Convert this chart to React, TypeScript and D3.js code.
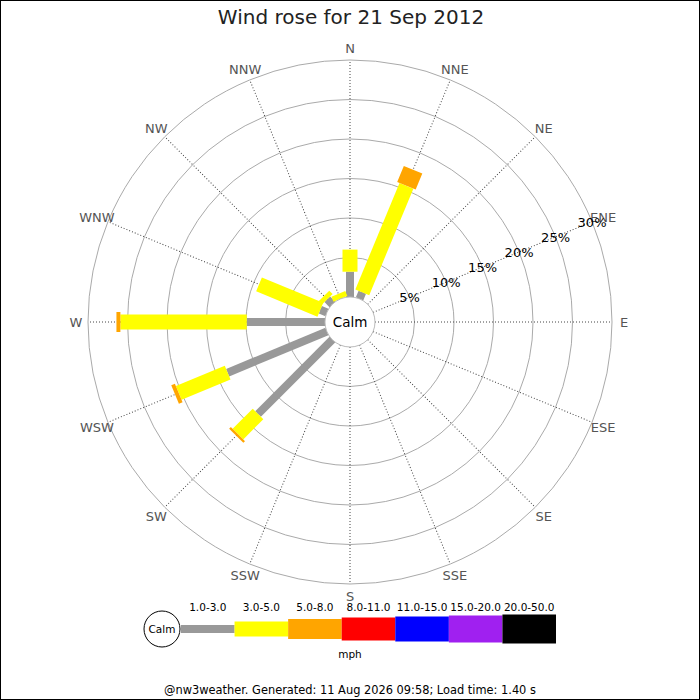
import { useEffect, useRef } from "react"
import * as d3 from "d3"

const directions = ["N", "NNE", "NE", "ENE", "E", "ESE", "SE", "SSE", "S", "SSW", "SW", "WSW", "W", "WNW", "NW", "NNW"]
const speedBins = ["1.0-3.0", "3.0-5.0", "5.0-8.0", "8.0-11.0", "11.0-15.0", "15.0-20.0", "20.0-50.0"]
const binColors = ["#999999", "#ffff00", "#ffa500", "#ff0000", "#0000ff", "#a020f0", "#000000"]

// % of time per direction, one array per speed bin (N clockwise to NNW)
const bin1to3 = [3.2, 0.9, 0, 0, 0, 0, 0, 0, 0, 0, 13.3, 13.6, 9.9, 0.9, 0.9, 0]
const bin3to5 = [2.8, 14.6, 0, 0, 0, 0, 0, 0, 0, 0, 3.6, 6.7, 16.0, 8.4, 0.6, 0.7]
const bin5to8 = [0, 2.2, 0, 0, 0, 0, 0, 0, 0, 0, 0.3, 0.5, 0.5, 0, 0, 0]
const bin8to11 = new Array(16).fill(0)
const bin11to15 = new Array(16).fill(0)
const bin15to20 = new Array(16).fill(0)
const bin20to50 = new Array(16).fill(0)
const binValues = [bin1to3, bin3to5, bin5to8, bin8to11, bin11to15, bin15to20, bin20to50]

const pctTicks = [5, 10, 15, 20, 25, 30]

const FONT = "DejaVu Sans, sans-serif"

export default function App() {
  const svgRef = useRef<SVGSVGElement>(null)

  useEffect(() => {
    if (!svgRef.current) return
    const svg = d3.select(svgRef.current)
    svg.selectAll("*").remove()

    const width = 700
    const height = 700
    const cx = 350
    const cy = 322
    const calmR = 25
    const barWidths = [8, 15, 20, 23, 25, 27, 29]

    const r = d3.scaleLinear().domain([0, 30]).range([calmR, 262])
    const angle = d3.scaleBand().domain(directions).range([0, 360]).align(0).paddingInner(0).paddingOuter(0)
    const ang = (d: string) => angle(d) || 0

    svg.attr("width", width).attr("height", height)

    svg.append("rect").attr("x", 0.5).attr("y", 0.5).attr("width", width - 1).attr("height", height - 1)
      .attr("fill", "#fff").attr("stroke", "#000")

    // title
    svg.append("text").attr("x", 351).attr("y", 24).attr("text-anchor", "middle")
      .style("font-family", FONT).style("font-size", "20px").attr("fill", "#222")
      .text("Wind rose for 21 Sep 2012")

    const g = svg.append("g").attr("transform", `translate(${cx},${cy})`)

    // rings
    g.selectAll("circle.ring").data(pctTicks).enter().append("circle")
      .attr("class", "ring").attr("r", (d) => r(d))
      .attr("fill", "none").attr("stroke", "#aaa").attr("stroke-width", 1)

    // spokes
    g.selectAll("line.spoke").data(directions).enter().append("line")
      .attr("class", "spoke")
      .attr("transform", (d) => `rotate(${ang(d)})`)
      .attr("x1", 0).attr("y1", -calmR).attr("x2", 0).attr("y2", -r(30))
      .attr("stroke", "#444").attr("stroke-width", 1).attr("stroke-dasharray", "1,2")

    // stacked bars
    const bars: { dir: string; bin: number; r0: number; r1: number }[] = []
    directions.forEach((dir, i) => {
      let cum = 0
      binValues.forEach((vals, b) => {
        const v = vals[i]
        if (v > 0) bars.push({ dir, bin: b, r0: r(cum), r1: r(cum + v) })
        cum += v
      })
    })
    g.selectAll("rect.bar").data(bars).enter().append("rect")
      .attr("class", "bar")
      .attr("transform", (d) => `rotate(${ang(d.dir)})`)
      .attr("x", (d) => -barWidths[d.bin] / 2)
      .attr("y", (d) => -d.r1)
      .attr("width", (d) => barWidths[d.bin])
      .attr("height", (d) => d.r1 - d.r0)
      .attr("fill", (d) => binColors[d.bin])

    // calm circle
    g.append("circle").attr("r", calmR).attr("fill", "#fff").attr("stroke", "#bbb")
    g.append("text").attr("y", 5).attr("text-anchor", "middle")
      .style("font-family", FONT).style("font-size", "13.5px").attr("fill", "#000").text("Calm")

    // direction labels
    g.selectAll("text.dir").data(directions).enter().append("text")
      .attr("class", "dir")
      .attr("x", (d) => 274 * Math.sin((ang(d) * Math.PI) / 180))
      .attr("y", (d) => -274 * Math.cos((ang(d) * Math.PI) / 180) + 5)
      .attr("text-anchor", "middle")
      .style("font-family", FONT).style("font-size", "13px").attr("fill", "#555")
      .text((d) => d)

    // percent labels along ENE
    const a = (ang("ENE") * Math.PI) / 180
    g.selectAll("text.pct").data(pctTicks).enter().append("text")
      .attr("class", "pct")
      .attr("x", (d) => r(d) * Math.sin(a))
      .attr("y", (d) => -r(d) * Math.cos(a) + 5)
      .attr("text-anchor", "middle")
      .style("font-family", FONT).style("font-size", "13px").attr("fill", "#000")
      .text((d) => `${d}%`)

    // legend
    const lx = d3.scaleBand().domain(speedBins).range([181, 556])
    const ly = 629
    const legend = svg.append("g")
    legend.append("circle").attr("cx", 162).attr("cy", ly).attr("r", 18).attr("fill", "#fff").attr("stroke", "#000")
    legend.append("text").attr("x", 162).attr("y", ly + 4).attr("text-anchor", "middle")
      .style("font-family", FONT).style("font-size", "10.5px").text("Calm")
    legend.selectAll("rect.key").data(speedBins).enter().append("rect")
      .attr("class", "key")
      .attr("x", (d) => lx(d) || 0)
      .attr("y", (d, i) => ly - barWidths[i] / 2)
      .attr("width", lx.bandwidth())
      .attr("height", (d, i) => barWidths[i])
      .attr("fill", (d, i) => binColors[i])
    legend.selectAll("text.key").data(speedBins).enter().append("text")
      .attr("class", "key")
      .attr("x", (d) => (lx(d) || 0) + lx.bandwidth() / 2)
      .attr("y", 611)
      .attr("text-anchor", "middle")
      .style("font-family", FONT).style("font-size", "10.5px").attr("fill", "#000")
      .text((d) => d)
    legend.append("text").attr("x", cx).attr("y", 658).attr("text-anchor", "middle")
      .style("font-family", FONT).style("font-size", "10.5px").text("mph")

    // footer
    svg.append("text").attr("x", cx).attr("y", 694).attr("text-anchor", "middle")
      .style("font-family", FONT).style("font-size", "11.4px").attr("fill", "#000")
      .text("@nw3weather. Generated: 11 Aug 2026 09:58; Load time: 1.40 s")
  }, [])

  return (
    <div style={{ position: "absolute", left: 0, top: 0 }}>
      <svg ref={svgRef} style={{ display: "block" }}></svg>
    </div>
  )
}
